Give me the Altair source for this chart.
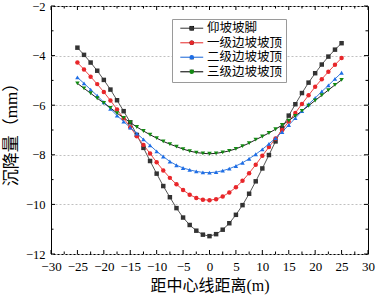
import altair as alt
import pandas as pd

# ---------------- data ----------------
x_pos = [-25, -23.75, -22.5, -21.25, -20, -18.75, -17.5, -16.25, -15, -13.75,
         -12.5, -11.25, -10, -8.75, -7.5, -6.25, -5, -3.75, -2.5, -1.25, 0,
         1.25, 2.5, 3.75, 5, 6.25, 7.5, 8.75, 10, 11.25, 12.5, 13.75, 15,
         16.25, 17.5, 18.75, 20, 21.25, 22.5, 23.75, 25]

series_names = ["仰坡坡脚", "一级边坡坡顶", "二级边坡坡顶", "三级边坡坡顶"]

s_toe = [-3.68, -3.97, -4.28, -4.61, -4.98, -5.37, -5.80, -6.24, -6.69, -7.20,
         -7.72, -8.25, -8.76, -9.26, -9.71, -10.15, -10.53, -10.83, -11.06, -11.22, -11.28,
         -11.20, -11.02, -10.76, -10.42, -10.03, -9.57, -9.07, -8.55, -8.01, -7.46,
         -6.93, -6.42, -5.96, -5.51, -5.09, -4.71, -4.36, -4.04, -3.76, -3.50]
s_lv1 = [-4.28, -4.56, -4.85, -5.15, -5.47, -5.81, -6.17, -6.53, -6.89, -7.25,
         -7.60, -7.95, -8.30, -8.63, -8.93, -9.19, -9.42, -9.61, -9.74, -9.81, -9.83,
         -9.79, -9.68, -9.52, -9.31, -9.05, -8.74, -8.40, -8.04, -7.69, -7.34,
         -7.00, -6.66, -6.31, -5.95, -5.60, -5.26, -4.95, -4.65, -4.37, -4.10]
s_lv2 = [-4.88, -5.12, -5.37, -5.62, -5.88, -6.15, -6.42, -6.66, -6.90, -7.14,
         -7.38, -7.62, -7.86, -8.07, -8.27, -8.42, -8.53, -8.61, -8.67, -8.71, -8.72,
         -8.70, -8.64, -8.56, -8.45, -8.32, -8.16, -7.98, -7.78, -7.56, -7.33,
         -7.08, -6.80, -6.52, -6.24, -5.96, -5.71, -5.45, -5.20, -4.94, -4.69]
s_lv3 = [-5.12, -5.32, -5.52, -5.72, -5.91, -6.11, -6.32, -6.51, -6.70, -6.88,
         -7.04, -7.19, -7.33, -7.46, -7.57, -7.67, -7.77, -7.85, -7.91, -7.94, -7.96,
         -7.94, -7.90, -7.84, -7.76, -7.65, -7.53, -7.39, -7.26, -7.12, -6.97,
         -6.80, -6.62, -6.43, -6.23, -6.02, -5.81, -5.60, -5.39, -5.18, -4.98]

x_major = [-30, -25, -20, -15, -10, -5, 0, 5, 10, 15, 20, 25, 30]
x_minor = [-27.5, -22.5, -17.5, -12.5, -7.5, -2.5, 2.5, 7.5, 12.5, 17.5, 22.5, 27.5]
y_major = [-12, -10, -8, -6, -4, -2]
y_minor = [-11, -9, -7, -5, -3]

# ---------------- styles ----------------
line_colors = ["#555555", "#ea4a4a", "#3a7ddd", "#222222"]
marker_colors = ["#333333", "#e8262a", "#1e6ee6", "#128a12"]
marker_shapes = ["square", "circle", "triangle-up", "triangle-down"]
FONT = "Liberation Serif, Noto Sans CJK SC"

W, H = 317, 248

rows = []
for name, vals in zip(series_names, [s_toe, s_lv1, s_lv2, s_lv3]):
    for xv, yv in zip(x_pos, vals):
        rows.append({"x": xv, "y": yv, "series": name, "series_m": name})
df = pd.DataFrame(rows)

xs = alt.Scale(domain=[-30, 30], nice=False, zero=False)
ys = alt.Scale(domain=[-12, -2], nice=False, zero=False)

x_axis = alt.Axis(values=x_major, title="距中心线距离(m)", ticks=False, tickSize=0,
                  domain=False, grid=False, labelFont=FONT, labelFontSize=13,
                  labelColor="black", labelPadding=6, labelFlush=False,
                  labelOverlap=False, titleFont=FONT, titleFontSize=16,
                  titleFontWeight="normal", titleColor="black", titlePadding=4)
y_axis = alt.Axis(values=y_major, title="沉降量（mm）", ticks=False, tickSize=0,
                  domain=False, grid=True, gridColor="#c0c0c0", gridDash=[2, 2],
                  gridWidth=1, labelFont=FONT, labelFontSize=12.5, labelColor="black",
                  labelPadding=6, labelOverlap=False, titleFont=FONT,
                  titleFontSize=17, titleFontWeight="normal", titleColor="black",
                  titlePadding=5)

LEG_COMMON = dict(title=None, orient="none", legendX=121, legendY=13,
                  symbolSize=21, symbolStrokeWidth=1.2, symbolOffset=10.5,
                  labelFont=FONT, labelFontSize=12.5, labelLimit=200,
                  padding=3, rowPadding=1.5)

legend_lines = alt.Legend(symbolType="M-5,0H5", labelColor="black", labelOffset=9,
                          fillColor="white", strokeColor="#9a9a9a", **LEG_COMMON)
legend_marks = alt.Legend(labelExpr="' '", labelOpacity=0, labelOffset=0,
                          **LEG_COMMON)

lines = alt.Chart(df).mark_line(strokeWidth=1).encode(
    x=alt.X("x:Q", scale=xs, axis=x_axis),
    y=alt.Y("y:Q", scale=ys, axis=y_axis),
    stroke=alt.Stroke("series:N", scale=alt.Scale(domain=series_names, range=line_colors),
                      legend=legend_lines),
    order="x:Q",
)

points = alt.Chart(df).mark_point(filled=True, opacity=1, strokeWidth=0, size=20).encode(
    x=alt.X("x:Q", scale=xs, axis=x_axis),
    y=alt.Y("y:Q", scale=ys, axis=y_axis),
    fill=alt.Fill("series_m:N", sort=series_names,
                  scale=alt.Scale(range=marker_colors), legend=legend_marks),
    shape=alt.Shape("series_m:N", sort=series_names,
                    scale=alt.Scale(range=marker_shapes), legend=legend_marks),
)


def vticks(vals, y0, y1):
    return alt.Chart(pd.DataFrame({"v": vals})).mark_rule(color="black", strokeWidth=1).encode(
        x=alt.X("v:Q", scale=xs, axis=x_axis), y=alt.value(y0), y2=alt.value(y1))


def hticks(vals, x0, x1):
    return alt.Chart(pd.DataFrame({"v": vals})).mark_rule(color="black", strokeWidth=1).encode(
        y=alt.Y("v:Q", scale=ys, axis=y_axis), x=alt.value(x0), x2=alt.value(x1))


tick_layers = [
    vticks(x_major, H, H - 4), vticks(x_minor, H, H - 2.5),
    vticks(x_major, 0, 4), vticks(x_minor, 0, 2.5),
    hticks(y_major, 0, 4), hticks(y_minor, 0, 2.5),
    hticks(y_major, W, W - 4), hticks(y_minor, W, W - 2.5),
]

chart = alt.layer(lines, points, *tick_layers).properties(
    width=W, height=H,
    padding={"left": 51, "top": 6, "right": 9, "bottom": 42},
    autosize=alt.AutoSizeParams(type="none"),
    background="white",
).configure_view(stroke="black", strokeWidth=1)

chart.save("out.html", embed_options={"renderer": "svg", "actions": False})
